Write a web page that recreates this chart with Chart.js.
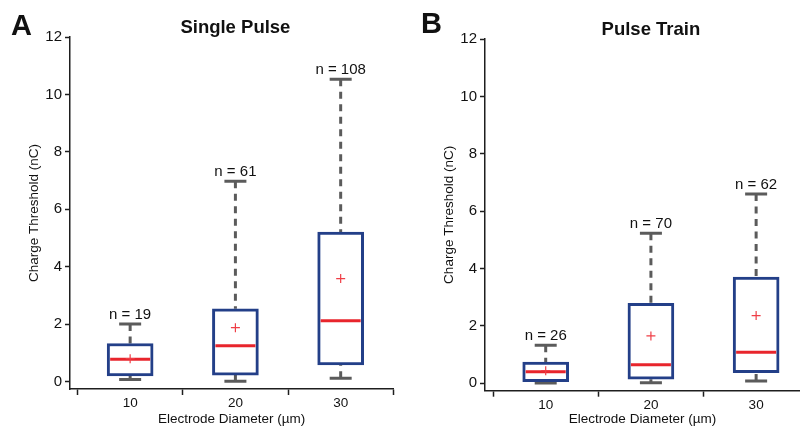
<!DOCTYPE html>
<html>
<head>
<meta charset="utf-8">
<script src="https://cdn.jsdelivr.net/npm/chart.js@4.4.1/dist/chart.umd.min.js"></script>
<style>
html,body{margin:0;padding:0;background:#fff;}
#wrap{position:relative;width:800px;height:427px;overflow:hidden;background:#fff;}
canvas{position:absolute;top:0;}
</style>
</head>
<body>
<div id="wrap">
  <canvas id="cA" width="400" height="427" style="left:0;width:400px;height:427px"></canvas>
  <canvas id="cB" width="400" height="427" style="left:400px;width:400px;height:427px"></canvas>
</div>
<script>
// ---------- data ----------
const categories = [10, 20, 30];            // electrode diameter (µm)
const yTicks = [0, 2, 4, 6, 8, 10, 12];
const xBoundaryTicks = [5, 15, 25, 35];

// Panel A: Single Pulse
const singleMin    = [0.08, 0.02, 0.12];
const singleQ1     = [0.20, 0.23, 0.58];
const singleMedian = [0.78, 1.25, 2.12];
const singleQ3     = [1.33, 2.54, 5.21];
const singleMax    = [2.01, 6.98, 10.53];
const singleMean   = [0.80, 1.88, 3.59];
const singleN      = [19, 61, 108];

// Panel B: Pulse Train
const trainMin    = [0.01, 0.02, 0.08];
const trainQ1     = [0.06, 0.14, 0.37];
const trainMedian = [0.40, 0.65, 1.08];
const trainQ3     = [0.74, 2.79, 3.70];
const trainMax    = [1.33, 5.23, 6.60];
const trainMean   = [0.44, 1.65, 2.36];
const trainN      = [26, 70, 62];

// ---------- style ----------
const FAMILY = "'Liberation Sans', Arial, Helvetica, sans-serif";
const BLUE = '#233f88';
const RED = '#e8252c';
const RED_MEAN = '#ef3e46';
const GRAY = '#5b5b5b';
const AXIS = '#1e1e1e';
const TEXT = '#111';
Chart.defaults.font.family = FAMILY;
Chart.defaults.color = TEXT;

function pts(vals) { return categories.map((c, i) => ({x: c, y: vals[i]})); }
function segs(a, b) { return categories.flatMap((c, i) => [{x: c, y: a[i]}, {x: c, y: b[i]}, {x: c, y: null}]); }

function makeDatasets(mn, q1, med, q3, mx, mean) {
  return [
    {type: 'scatter', label: 'Mean', data: pts(mean), pointStyle: 'cross', pointRadius: 4.5,
     borderColor: RED_MEAN, backgroundColor: RED_MEAN, borderWidth: 1.2},
    {type: 'scatter', label: 'Median', data: pts(med), pointStyle: 'line', pointRadius: 20,
     borderColor: RED, backgroundColor: RED, borderWidth: 3},
    {type: 'bar', label: 'IQR', data: categories.map((c, i) => ({x: c, y: [q1[i], q3[i]]})),
     backgroundColor: '#ffffff', borderColor: BLUE, borderWidth: 3, borderSkipped: false, barThickness: 46},
    {type: 'scatter', label: 'Caps', data: pts(mx).concat(pts(mn)), pointStyle: 'line', pointRadius: 11,
     borderColor: GRAY, backgroundColor: GRAY, borderWidth: 3},
    {type: 'line', label: 'Whiskers', data: segs(mx, q3).concat(segs(mn, q1)), borderColor: GRAY,
     borderWidth: 3, borderDash: [7, 5.5], pointRadius: 0, spanGaps: false, fill: false, tension: 0}
  ];
}

function annotPlugin(cfg) {
  return {
    id: 'annot' + cfg.letter,
    afterDraw(chart) {
      const ctx = chart.ctx, xs = chart.scales.x, ys = chart.scales.y;
      ctx.save();
      ctx.fillStyle = TEXT;
      ctx.textBaseline = 'alphabetic';
      ctx.textAlign = 'center';
      ctx.font = '15px ' + FAMILY;
      cfg.n.forEach((n, i) => {
        ctx.fillText('n = ' + n, xs.getPixelForValue(categories[i]), ys.getPixelForValue(cfg.max[i]) - 5);
      });
      ctx.font = 'bold 18.5px ' + FAMILY;
      ctx.fillText(cfg.title, xs.getPixelForValue(categories[1]), cfg.titleY);
      ctx.textAlign = 'left';
      ctx.font = 'bold 29px ' + FAMILY;
      ctx.fillText(cfg.letter, cfg.letterX, cfg.letterY);
      ctx.restore();
    }
  };
}

function makeChart(id, ds, geo, cfg) {
  const allX = xBoundaryTicks.concat(categories).sort((a, b) => a - b);
  return new Chart(document.getElementById(id), {
    type: 'bar',
    data: {datasets: ds},
    options: {
      responsive: false, animation: false, devicePixelRatio: 1,
      layout: {autoPadding: false, padding: {top: geo.top, left: 0, right: geo.right, bottom: 0}},
      plugins: {legend: {display: false}, tooltip: {enabled: false}, title: {display: false}},
      scales: {
        x: {
          type: 'linear', min: geo.xMin, max: geo.xMax, offset: false,
          afterBuildTicks: s => { s.ticks = allX.filter(v => v >= s.min - 1e-9 && v <= s.max + 1e-9).map(v => ({value: v})); },
          afterFit: s => { s.height = geo.xH; },
          grid: {offset: false, drawOnChartArea: false, drawTicks: true, tickLength: 6, tickWidth: 1.5,
                 tickColor: c => (c.tick && categories.includes(c.tick.value)) ? 'rgba(0,0,0,0)' : AXIS},
          border: {display: true, color: AXIS, width: 1.5},
          ticks: {autoSkip: false, maxRotation: 0, padding: 0, color: TEXT, font: {size: 13.5},
                  callback: v => categories.includes(v) ? String(v) : ''},
          title: {display: true, text: 'Electrode Diameter (µm)', color: TEXT, font: {size: 13.5}, padding: {top: 0, bottom: 0}}
        },
        y: {
          type: 'linear', min: geo.yMin, max: 12,
          afterBuildTicks: s => { s.ticks = yTicks.map(v => ({value: v})); },
          afterFit: s => { s.width = geo.yW; },
          grid: {drawOnChartArea: false, drawTicks: true, tickLength: 5, tickWidth: 1.5, tickColor: AXIS},
          border: {display: true, color: AXIS, width: 1.5},
          ticks: {padding: 3, color: TEXT, font: {size: 15}},
          title: {display: true, text: 'Charge Threshold (nC)', color: TEXT, font: {size: 13.5}, padding: {top: geo.yTitlePad, bottom: 0}}
        }
      }
    },
    plugins: [annotPlugin(cfg)]
  });
}

makeChart('cA',
  makeDatasets(singleMin, singleQ1, singleMedian, singleQ3, singleMax, singleMean),
  {top: 37, right: 6.7, xMin: 4.286, xMax: 35, xH: 38, yW: 70, yMin: -0.254, yTitlePad: 26},
  {letter: 'A', letterX: 11, letterY: 35, title: 'Single Pulse', titleY: 33.2, n: singleN, max: singleMax});

makeChart('cB',
  makeDatasets(trainMin, trainQ1, trainMedian, trainQ3, trainMax, trainMean),
  {top: 39, right: 0, xMin: 4.23, xMax: 34.17, xH: 36.3, yW: 85, yMin: -0.258, yTitlePad: 41},
  {letter: 'B', letterX: 21, letterY: 33.3, title: 'Pulse Train', titleY: 35.3, n: trainN, max: trainMax});
</script>
</body>
</html>
